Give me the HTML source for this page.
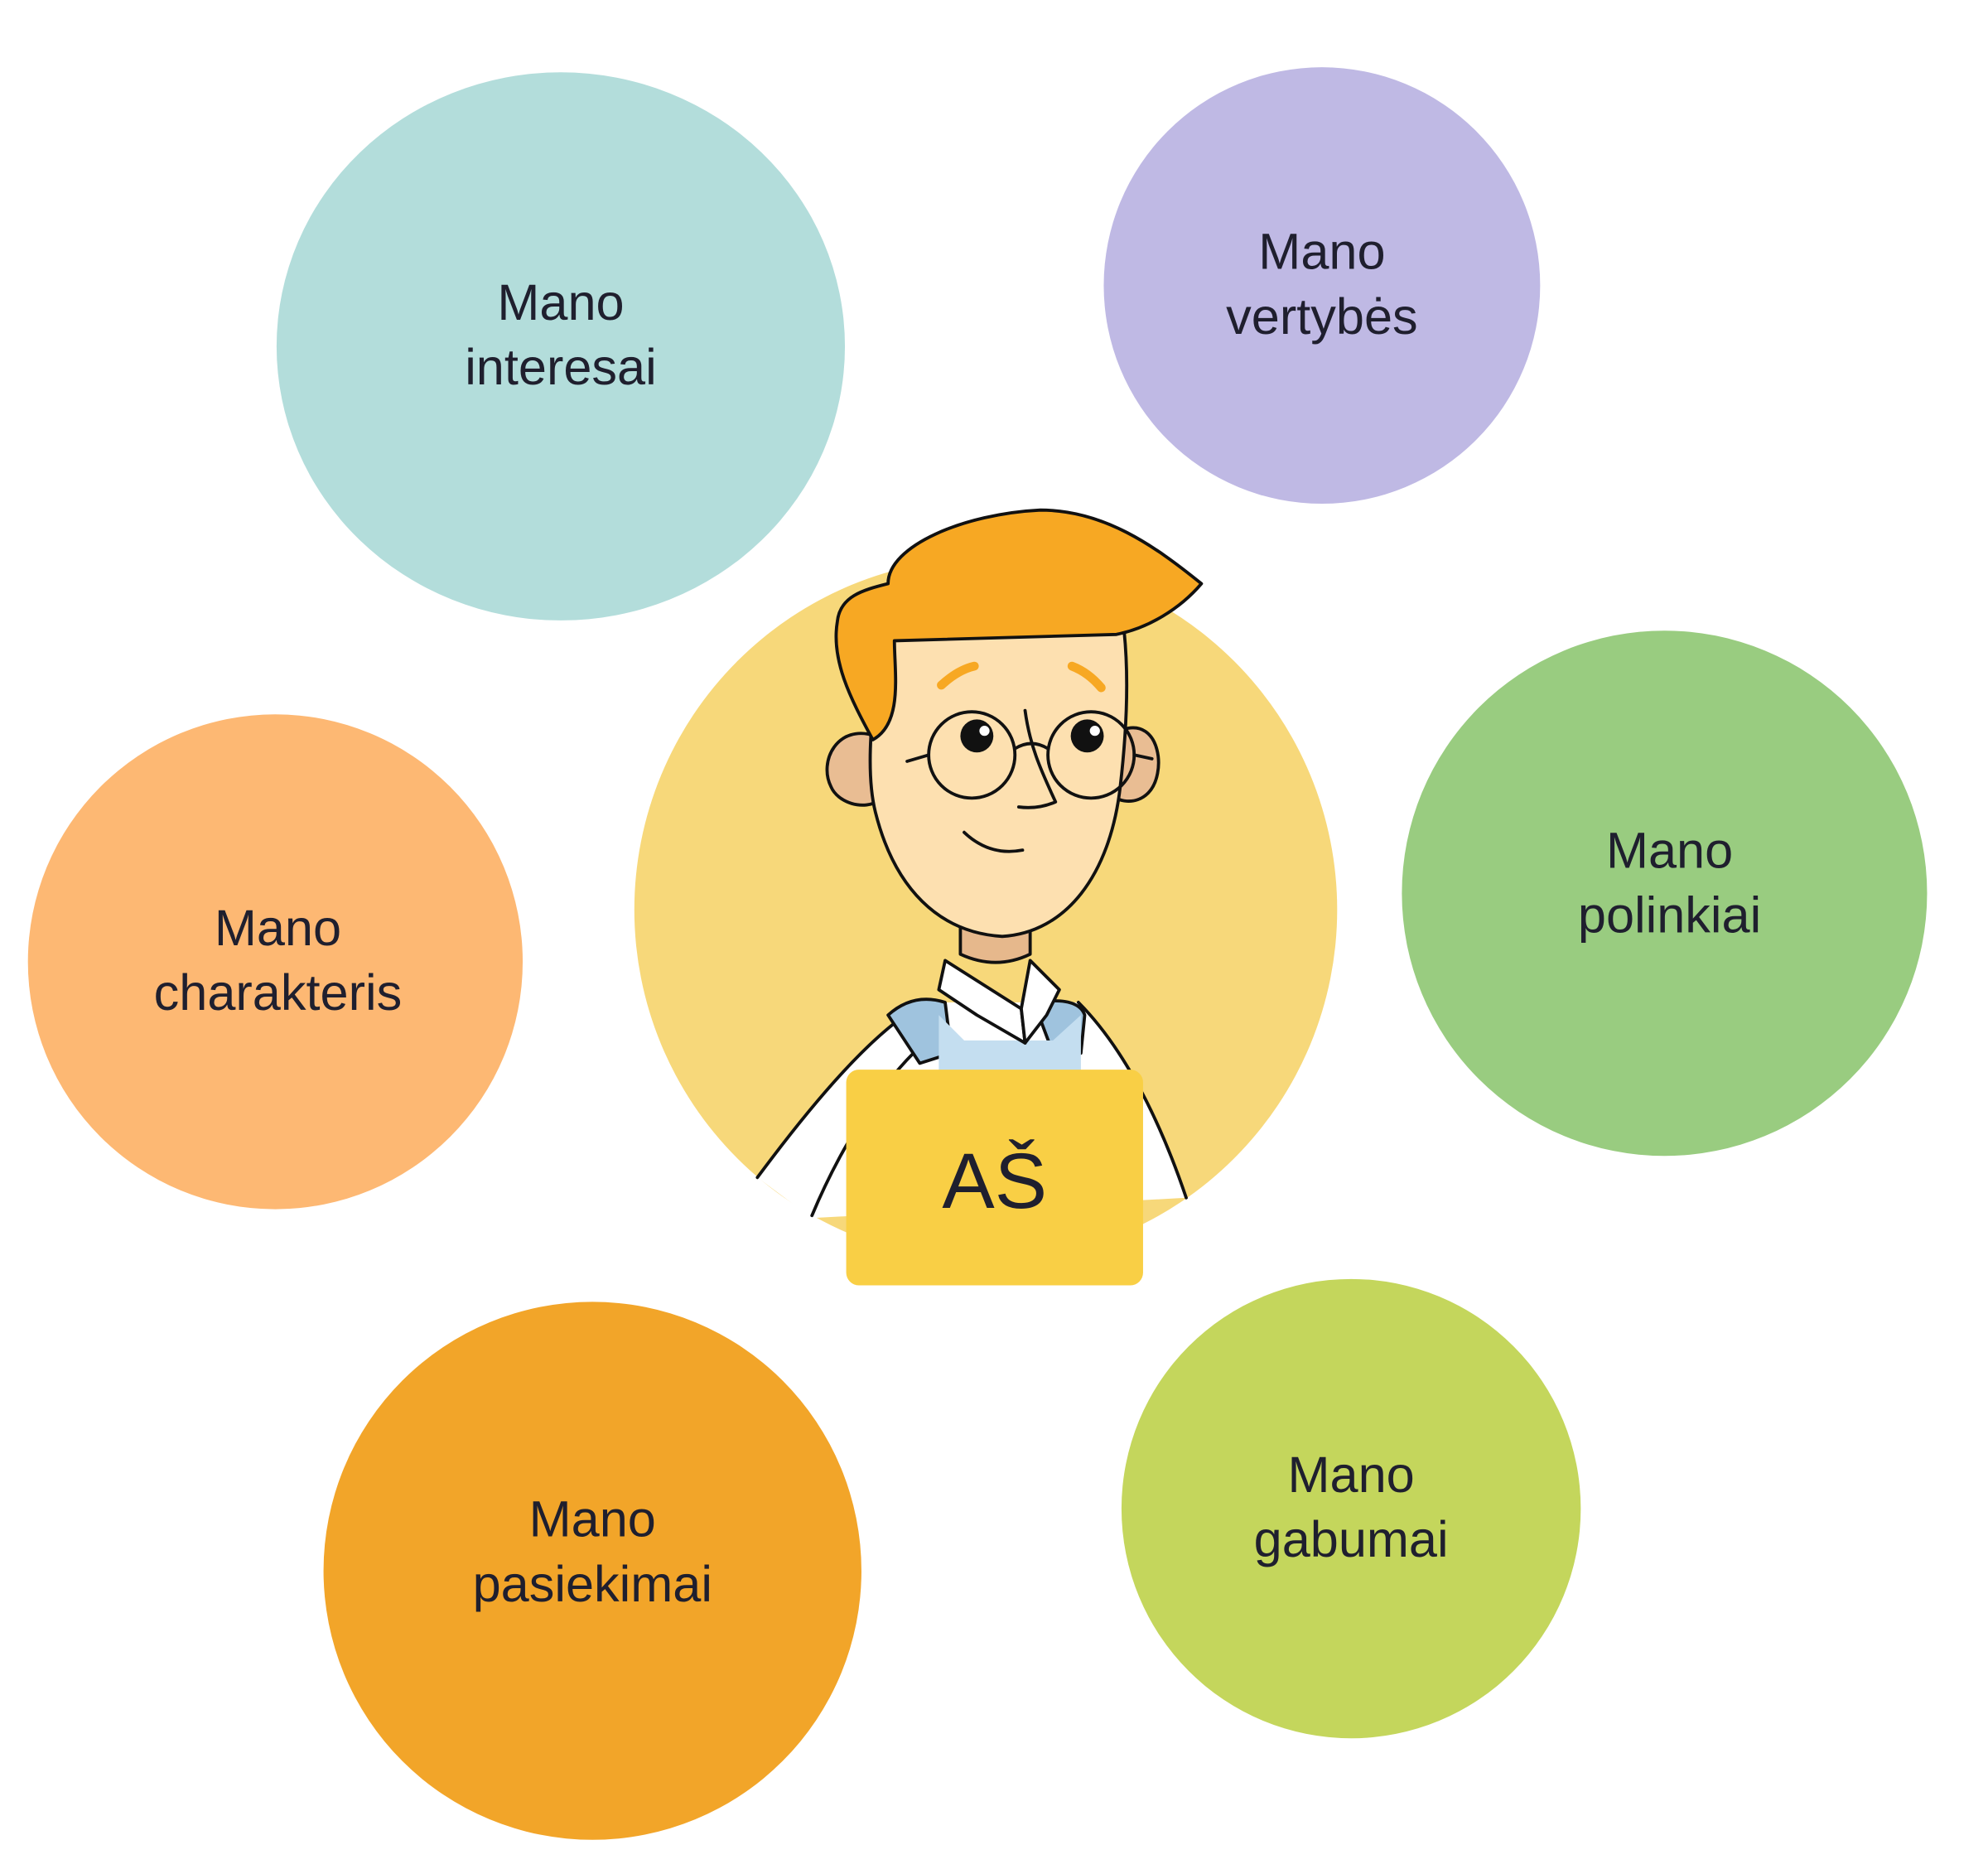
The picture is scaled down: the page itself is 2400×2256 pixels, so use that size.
<!DOCTYPE html>
<html><head><meta charset="utf-8"><style>
html,body{margin:0;padding:0;background:#fff;}
svg{display:block;}
text{font-family:"Liberation Sans","DejaVu Sans",sans-serif;fill:#1f1f2e;}
</style></head><body>
<svg width="2400" height="2256" viewBox="0 0 1567 1473" xmlns="http://www.w3.org/2000/svg">
<rect width="1567" height="1473" fill="#fff"/>
<ellipse cx="442" cy="273" rx="224" ry="216" fill="#b3dddb"/>
<circle cx="1042" cy="225" r="172" fill="#bfb9e4"/>
<circle cx="1312" cy="704" r="207" fill="#99cc80"/>
<circle cx="217" cy="758" r="195" fill="#fdb873"/>
<circle cx="467" cy="1238" r="212" fill="#f2a529"/>
<circle cx="1065" cy="1189" r="181" fill="#c4d65c"/>
<circle cx="777" cy="717" r="277" fill="#f7d87a"/>
<g font-size="40" text-anchor="middle">
<text x="442" y="252">Mano</text><text x="442" y="303">interesai</text>
<text x="1042" y="212">Mano</text><text x="1042" y="263">vertybės</text>
<text x="1316" y="684">Mano</text><text x="1316" y="735">polinkiai</text>
<text x="219" y="745">Mano</text><text x="219" y="796">charakteris</text>
<text x="467" y="1211">Mano</text><text x="467" y="1262">pasiekimai</text>
<text x="1065" y="1176">Mano</text><text x="1065" y="1227">gabumai</text>
</g>
<g stroke="#111" stroke-width="2.5" stroke-linejoin="round" stroke-linecap="round">
<path d="M597 928 C640 870 690 810 730 790 L850 790 C880 820 910 870 935 944 L640 960 Z" fill="#fff" stroke="none"/>
<path d="M597 928 C640 870 690 810 730 790" fill="none"/>
<path d="M850 790 C880 820 910 870 935 944" fill="none"/>
<path d="M640 958 C660 910 690 860 720 830" fill="none"/>
<path d="M700 800 Q720 782 745 790 L750 830 L725 838 Z" fill="#9fc3de"/>
<path d="M815 790 Q850 785 855 800 L852 830 L830 830 Z" fill="#9fc3de"/>
<path d="M740 800 L760 820 L830 820 L852 800 L852 860 L740 860 Z" fill="#c4def0" stroke="none"/>
<path d="M757 720 L757 752 Q785 765 812 752 L812 720 Z" fill="#e6b88c"/>
<path d="M745 757 L805 795 L808 822 L770 800 L740 780 Z" fill="#fff"/>
<path d="M812 757 L835 780 L825 800 L808 822 L805 795 Z" fill="#fff"/>
<path d="M690 580 C660 570 645 600 655 620 C660 632 680 640 695 630 Z" fill="#e9bd93"/>
<path d="M885 575 C915 565 920 610 905 625 C895 635 880 632 875 625 Z" fill="#e9bd93"/>
<path d="M700 470 C690 540 680 600 690 640 C705 700 740 735 790 738 C840 735 875 690 883 620 C890 560 890 510 882 470 Z" fill="#fde0b0"/>
<path d="M700 460 C700 430 760 405 820 402 C870 402 910 430 947 460 C930 480 905 495 880 500 L705 505 C705 530 712 570 688 583 C670 550 655 520 660 490 C662 470 680 465 700 460 Z" fill="#f7a823"/>
<circle cx="766" cy="595" r="34" fill="none"/>
<circle cx="860" cy="595" r="34" fill="none"/>
<path d="M800 590 Q813 582 826 590" fill="none"/>
<path d="M732 595 L715 600 M894 595 L908 598" fill="none"/>
<circle cx="770" cy="580" r="13" fill="#111" stroke="none"/>
<circle cx="857" cy="580" r="13" fill="#111" stroke="none"/>
<circle cx="776" cy="576" r="4" fill="#fff" stroke="none"/>
<circle cx="863" cy="576" r="4" fill="#fff" stroke="none"/>
<path d="M742 540 Q755 528 768 525 M845 525 Q858 530 868 542" stroke="#f7a823" stroke-width="7" fill="none"/>
<path d="M808 560 C812 590 822 610 832 632 Q818 638 803 636" fill="none"/>
<path d="M760 656 Q780 675 806 670" fill="none"/>
</g>
<rect x="667" y="843" width="234" height="170" rx="10" fill="#f9cf45"/>
<text x="784" y="952" font-size="62" text-anchor="middle">AŠ</text>
</svg>
</body></html>
